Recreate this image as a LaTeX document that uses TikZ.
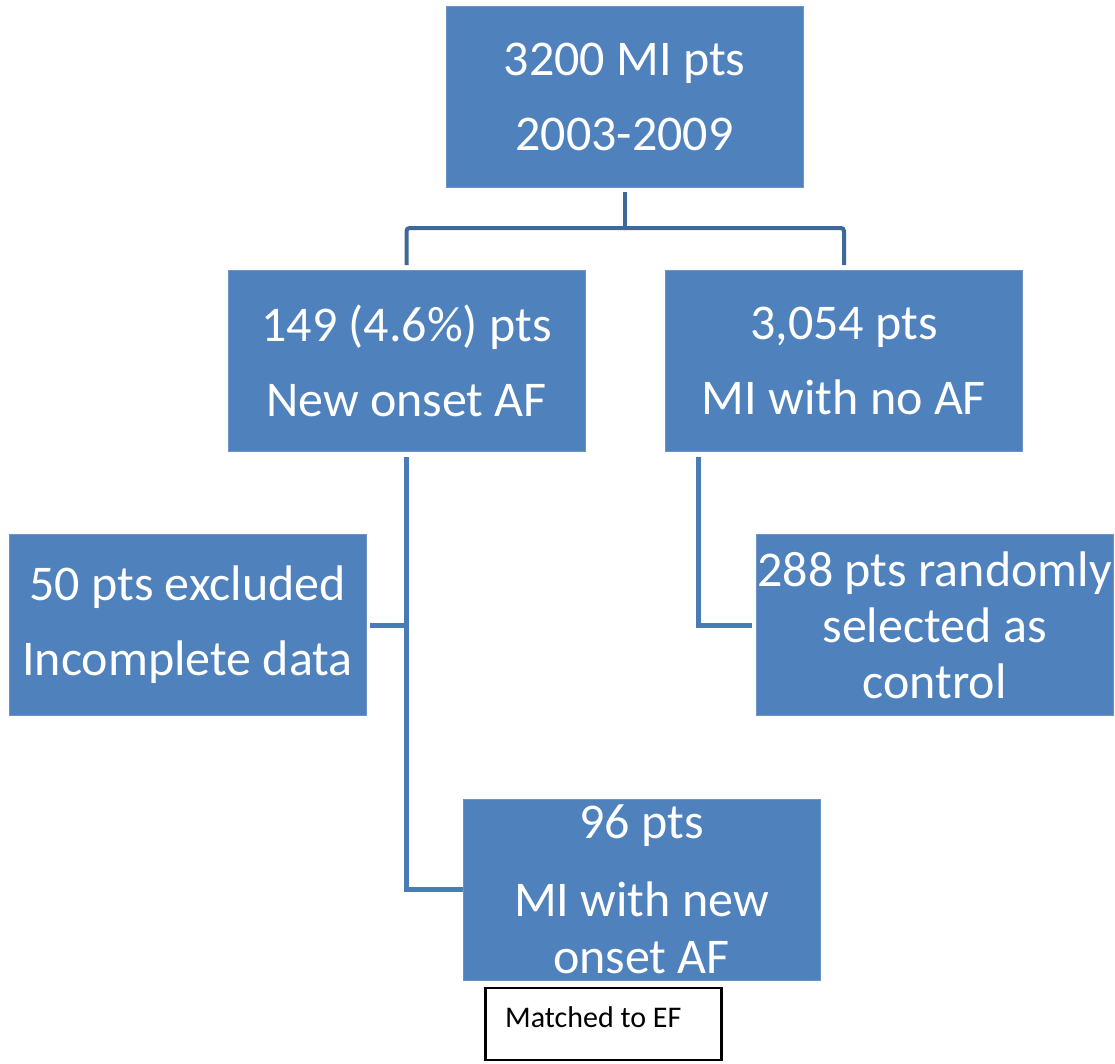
\documentclass[tikz,border=0pt]{standalone}
\usepackage{fontspec}
\setmainfont{Carlito}
\definecolor{boxblue}{HTML}{4F81BD}
\definecolor{boxedge}{HTML}{6A93C8}
\definecolor{linedark}{HTML}{3E6899}
\definecolor{linemid}{HTML}{4A7BB7}
\begin{document}
\begin{tikzpicture}[x=1pt,y=-1pt,
  bluebox/.style={rectangle, fill=boxblue, draw=boxedge, line width=0.8pt, text=white,
    minimum width=357pt, minimum height=181pt, inner sep=0pt, align=center,
    font=\fontsize{50}{75}\selectfont},
  bracketline/.style={draw=linedark, line width=4pt, rounded corners=3pt},
  linkline/.style={draw=linemid, line width=5pt},
  notebox/.style={rectangle, draw=black, line width=2.5pt, fill=white,
    minimum width=236pt, minimum height=72pt, inner sep=0pt, text=black,
    font=\fontsize{30}{36}\selectfont}]
\useasboundingbox (0,0) rectangle (1115,1063);
\node[bluebox] (top) at (624.5,96.5) {3200 MI pts\\2003-2009};
\node[bluebox] (lb) at (406.5,361) {149 (4.6\%) pts\\New onset AF};
\node[bluebox] (rb) at (844,361) {3,054 pts\\MI with no AF};
\node[bluebox, font=\fontsize{50}{75}\selectfont] (ex) at (187.5,625) {50 pts excluded\\Incomplete data};
\node[bluebox, font=\fontsize{50}{56}\selectfont] (ctl) at (934.5,625) {288 pts randomly\\selected as\\control};
\node[bluebox, font=\fontsize{50}{57}\selectfont] (nf) at (641.5,889.5) {96 pts\\[21pt]MI with new\\onset AF};
\node[notebox] (mt) at (603.5,1024) {};
\node[anchor=base west, text=black, font=\fontsize{30}{36}\selectfont, inner sep=0pt] (mtx) at (505,1027) {Matched to EF};
\coordinate (j) at (624.5,228);
\draw[bracketline] ([yshift=-5pt]top.south) -- (j);
\draw[bracketline] ([yshift=5pt]lb.north) |- (j) -| ([yshift=5pt]rb.north);
\draw[linkline] ([yshift=-5pt]lb.south) |- (nf.west);
\draw[linkline] ([xshift=4pt]ex.east) -- (ex.east -| lb.south);
\draw[linkline] ([xshift=33pt,yshift=-5pt]rb.south west) |- ([xshift=-4pt]ctl.west);
\end{tikzpicture}
\end{document}
